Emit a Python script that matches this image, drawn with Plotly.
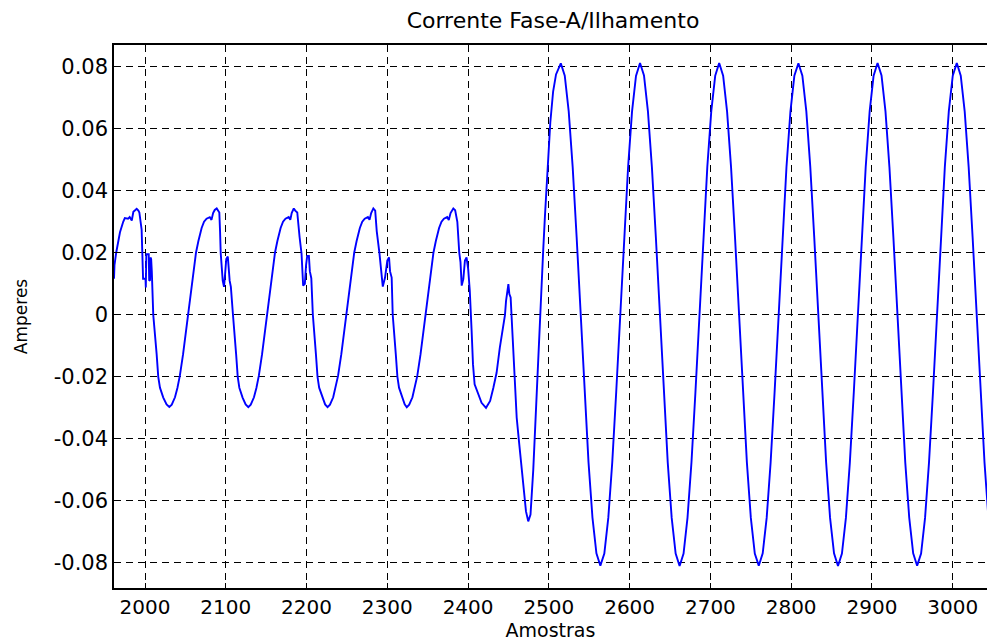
import plotly.graph_objects as go

# Sample index (Amostras) and phase-A current (Amperes), pre-islanding cycles
amostras_pre = [
    1961.6, 1962.2, 1964.3, 1967.0, 1969.0, 1973.0, 1975.0, 1979.0, 1981.0, 1983.6,
    1985.6, 1987.7, 1989.7, 1991.8, 1993.0, 1995.8, 1996.6, 1997.6, 2000.6, 2001.0,
    2001.6, 2004.6, 2005.2, 2006.2, 2006.7, 2007.6, 2008.4, 2010.2, 2014.4, 2016.4,
    2018.5, 2022.6, 2026.7, 2030.1,
    2033.1, 2037.1, 2040.1, 2043.1, 2047.1, 2050.1, 2053.6, 2057.1, 2060.1, 2063.1,
    2066.1, 2070.1, 2073.1, 2076.2, 2080.2, 2082.3, 2084.3, 2086.3, 2088.8, 2090.8,
    2092.0, 2092.9, 2093.7, 2096.2, 2097.8, 2099.1, 2100.6, 2102.5, 2103.6, 2104.8,
    2106.3, 2107.4, 2108.9, 2112.8, 2114.8, 2116.8, 2120.8, 2124.6, 2127.9,
    2130.9, 2134.9, 2137.9, 2140.9, 2144.9, 2147.9, 2151.4, 2154.9, 2157.9, 2160.9,
    2163.9, 2167.9, 2170.9, 2173.9, 2177.9, 2179.9, 2181.6, 2183.0, 2184.2, 2186.0,
    2188.5, 2191.4, 2193.8, 2195.8, 2197.9, 2199.4, 2200.8, 2202.9, 2204.1, 2205.9,
    2207.8, 2211.6, 2213.6, 2215.6, 2219.6, 2223.0, 2226.0,
    2229.0, 2233.0, 2236.0, 2239.0, 2243.0, 2246.0, 2249.5, 2253.0, 2256.0, 2259.0,
    2262.0, 2266.0, 2269.0, 2272.0, 2276.0, 2278.0, 2280.0, 2281.5, 2282.7, 2285.0,
    2286.9, 2290.2, 2293.1, 2294.4, 2297.2, 2300.0, 2302.1, 2303.4, 2305.4, 2306.7,
    2310.5, 2312.5, 2314.5, 2318.5, 2321.5, 2324.1,
    2327.1, 2331.1, 2334.1, 2337.1, 2341.1, 2344.1, 2347.6, 2351.1, 2354.1, 2357.1,
    2360.1, 2364.1, 2367.1, 2370.1, 2374.1, 2376.1, 2378.3, 2380.3, 2381.7, 2384.0,
    2386.7, 2389.1, 2390.6, 2392.1, 2394.1, 2396.1, 2398.1, 2400.1, 2401.5, 2402.1,
    2404.4, 2406.1, 2408.1, 2412.6, 2416.7, 2422.2,
]
corrente_pre = [
    0.0116, 0.0160, 0.0200, 0.0240, 0.0266, 0.0300, 0.0312, 0.0310, 0.0315, 0.0304,
    0.0332, 0.0337, 0.0342, 0.0336, 0.0330, 0.0275, 0.0200, 0.0116, 0.0116, 0.0088,
    0.0195, 0.0195, 0.0110, 0.0112, 0.0185, 0.0180, 0.0140, 0.0000, -0.0127, -0.0200,
    -0.0235, -0.0267, -0.0289, -0.0297,
    -0.0290, -0.0266, -0.0236, -0.0197, -0.0128, -0.0065, 0.0000, 0.0075, 0.0140, 0.0200,
    0.0238, 0.0280, 0.0300, 0.0310, 0.0315, 0.0306, 0.0328, 0.0338, 0.0343, 0.0337,
    0.0330, 0.0270, 0.0200, 0.0110, 0.0090, 0.0130, 0.0180, 0.0188, 0.0150, 0.0110,
    0.0090, 0.0060, 0.0000, -0.0127, -0.0200, -0.0235, -0.0267, -0.0289, -0.0298,
    -0.0290, -0.0266, -0.0236, -0.0197, -0.0128, -0.0065, 0.0000, 0.0075, 0.0140, 0.0200,
    0.0238, 0.0280, 0.0300, 0.0310, 0.0315, 0.0306, 0.0328, 0.0338, 0.0343, 0.0336,
    0.0330, 0.0250, 0.0197, 0.0094, 0.0100, 0.0160, 0.0190, 0.0190, 0.0140, 0.0118,
    0.0000, -0.0127, -0.0200, -0.0235, -0.0267, -0.0289, -0.0298,
    -0.0290, -0.0266, -0.0236, -0.0197, -0.0128, -0.0065, 0.0000, 0.0075, 0.0140, 0.0200,
    0.0238, 0.0280, 0.0300, 0.0310, 0.0315, 0.0306, 0.0328, 0.0338, 0.0343, 0.0336,
    0.0270, 0.0200, 0.0110, 0.0091, 0.0120, 0.0175, 0.0185, 0.0140, 0.0120, 0.0000,
    -0.0127, -0.0200, -0.0235, -0.0267, -0.0289, -0.0298,
    -0.0290, -0.0266, -0.0236, -0.0197, -0.0128, -0.0065, 0.0000, 0.0075, 0.0140, 0.0200,
    0.0238, 0.0280, 0.0300, 0.0310, 0.0315, 0.0306, 0.0328, 0.0338, 0.0343, 0.0337,
    0.0300, 0.0200, 0.0170, 0.0094, 0.0115, 0.0175, 0.0185, 0.0148, 0.0099, 0.0078,
    -0.0052, -0.0160, -0.0224, -0.0256, -0.0284, -0.0300,
]

# Transient right after the islanding event
amostras_trans = [
    2427.3, 2431.3, 2435.3, 2439.3, 2443.7, 2445.7, 2447.0, 2448.3, 2449.9, 2451.1,
    2452.7, 2455.2, 2458.1, 2460.2, 2463.4, 2466.3, 2469.3, 2471.7, 2474.5, 2477.3,
    2480.7, 2482.8, 2485.7, 2488.8, 2493.0, 2495.1, 2499.2, 2501.8, 2505.3, 2508.9,
]
corrente_trans = [
    -0.0278, -0.0235, -0.0187, -0.0106, -0.0030, 0.0000, 0.0045, 0.0067, 0.0099, 0.0067,
    0.0056, -0.0073, -0.0210, -0.0332, -0.0418, -0.0500, -0.0570, -0.0634, -0.0666, -0.0644,
    -0.0500, -0.0375, -0.0224, 0.0000, 0.0207, 0.0315, 0.0500, 0.0620, 0.0720, 0.0775,
]

# Islanded operation
amostras_ilha = [
    2514.8, 2519.7, 2524.6, 2529.5, 2534.4, 2539.3, 2544.2, 2549.1, 2554.0, 2558.9,
    2563.8, 2568.7, 2573.6, 2578.5, 2583.4, 2588.3, 2593.2, 2598.1, 2603.0, 2607.9,
    2612.9, 2617.8, 2622.7, 2627.6, 2632.5, 2637.4, 2642.3, 2647.2, 2652.1, 2657.0,
    2661.9, 2666.8, 2671.7, 2676.6, 2681.5, 2686.4, 2691.3, 2696.2, 2701.1, 2706.0,
    2710.9, 2715.8, 2720.7, 2725.6, 2730.5, 2735.4, 2740.3, 2745.2, 2750.1, 2755.0,
    2759.9, 2764.8, 2769.7, 2774.6, 2779.5, 2784.4, 2789.3, 2794.2, 2799.1, 2804.0,
    2809.0, 2813.9, 2818.8, 2823.7, 2828.6, 2833.5, 2838.4, 2843.3, 2848.2, 2853.1,
    2858.0, 2862.9, 2867.8, 2872.7, 2877.6, 2882.5, 2887.4, 2892.3, 2897.2, 2902.1,
    2907.0, 2911.9, 2916.8, 2921.7, 2926.6, 2931.5, 2936.4, 2941.3, 2946.2, 2951.1,
    2956.0, 2960.9, 2965.8, 2970.7, 2975.6, 2980.5, 2985.4, 2990.3, 2995.2, 3000.1,
    3005.1, 3010.0, 3014.9, 3019.8, 3024.7, 3029.6, 3034.5, 3039.4, 3044.3,
]
corrente_ilha = [
    0.0811, 0.0771, 0.0656, 0.0477, 0.0251, 0.0001, -0.0249, -0.0475, -0.0654, -0.0769,
    -0.0809, -0.0770, -0.0655, -0.0476, -0.0250, 0.0000, 0.0250, 0.0476, 0.0655, 0.0770,
    0.0812, 0.0772, 0.0656, 0.0476, 0.0250, 0.0000, -0.0250, -0.0476, -0.0655, -0.0770,
    -0.0810, -0.0770, -0.0654, -0.0475, -0.0250, 0.0001, 0.0251, 0.0477, 0.0656, 0.0771,
    0.0812, 0.0771, 0.0655, 0.0476, 0.0250, 0.0000, -0.0250, -0.0476, -0.0655, -0.0770,
    -0.0809, -0.0769, -0.0655, -0.0476, -0.0250, 0.0000, 0.0250, 0.0476, 0.0655, 0.0771,
    0.0811, 0.0771, 0.0656, 0.0477, 0.0250, 0.0000, -0.0250, -0.0475, -0.0655, -0.0769,
    -0.0810, -0.0770, -0.0655, -0.0476, -0.0249, 0.0001, 0.0250, 0.0476, 0.0656, 0.0771,
    0.0812, 0.0772, 0.0656, 0.0476, 0.0250, 0.0000, -0.0250, -0.0476, -0.0654, -0.0769,
    -0.0809, -0.0770, -0.0655, -0.0476, -0.0250, 0.0000, 0.0250, 0.0477, 0.0656, 0.0771,
    0.0812, 0.0771, 0.0655, 0.0476, 0.0250, 0.0000, -0.0250, -0.0476, -0.0655,
]

x_ticks = [2000, 2100, 2200, 2300, 2400, 2500, 2600, 2700, 2800, 2900, 3000]
x_tick_labels = ["2000", "2100", "2200", "2300", "2400", "2500",
                 "2600", "2700", "2800", "2900", "3000"]
y_ticks = [-0.08, -0.06, -0.04, -0.02, 0, 0.02, 0.04, 0.06, 0.08]
y_tick_labels = ["-0.08", "-0.06", "-0.04", "-0.02", "0",
                 "0.02", "0.04", "0.06", "0.08"]

amostras = amostras_pre + amostras_trans + amostras_ilha
corrente = corrente_pre + corrente_trans + corrente_ilha

FONT = "DejaVu Sans"

fig = go.Figure(
    go.Scatter(
        x=amostras, y=corrente, mode="lines",
        line=dict(color="#0000ff", width=1.9),
        hoverinfo="skip",
    )
)

fig.update_layout(
    width=987, height=641,
    margin=dict(l=114, r=0, t=45, b=53),
    paper_bgcolor="white", plot_bgcolor="white",
    showlegend=False,
    title=dict(
        text="Corrente Fase-A/Ilhamento",
        xref="container", yref="container",
        x=553 / 987, y=1 - 20 / 641,
        xanchor="center", yanchor="middle",
        font=dict(family=FONT, size=22, color="black"),
    ),
    font=dict(family=FONT, color="black"),
)

grid_style = dict(
    showgrid=True, gridcolor="#000000", gridwidth=1.2, griddash="7px,5px",
    showline=True, linecolor="black", linewidth=1.5,
    ticks="inside", ticklen=5, tickcolor="black",
    zeroline=False,
)

fig.update_xaxes(
    range=[1961.6, 3042.5],
    tickvals=x_ticks, ticktext=x_tick_labels,
    tickfont=dict(family=FONT, size=20, color="black"),
    mirror="ticks",
    title=dict(text="Amostras", font=dict(family=FONT, size=19, color="black"), standoff=3),
    **grid_style,
)
fig.update_yaxes(
    range=[-0.0881, 0.0870],
    tickvals=y_ticks, ticktext=y_tick_labels,
    tickfont=dict(family=FONT, size=21, color="black"),
    title=dict(text="Amperes", font=dict(family=FONT, size=17, color="black"), standoff=22),
    **grid_style,
)

fig.write_html("out.html")
